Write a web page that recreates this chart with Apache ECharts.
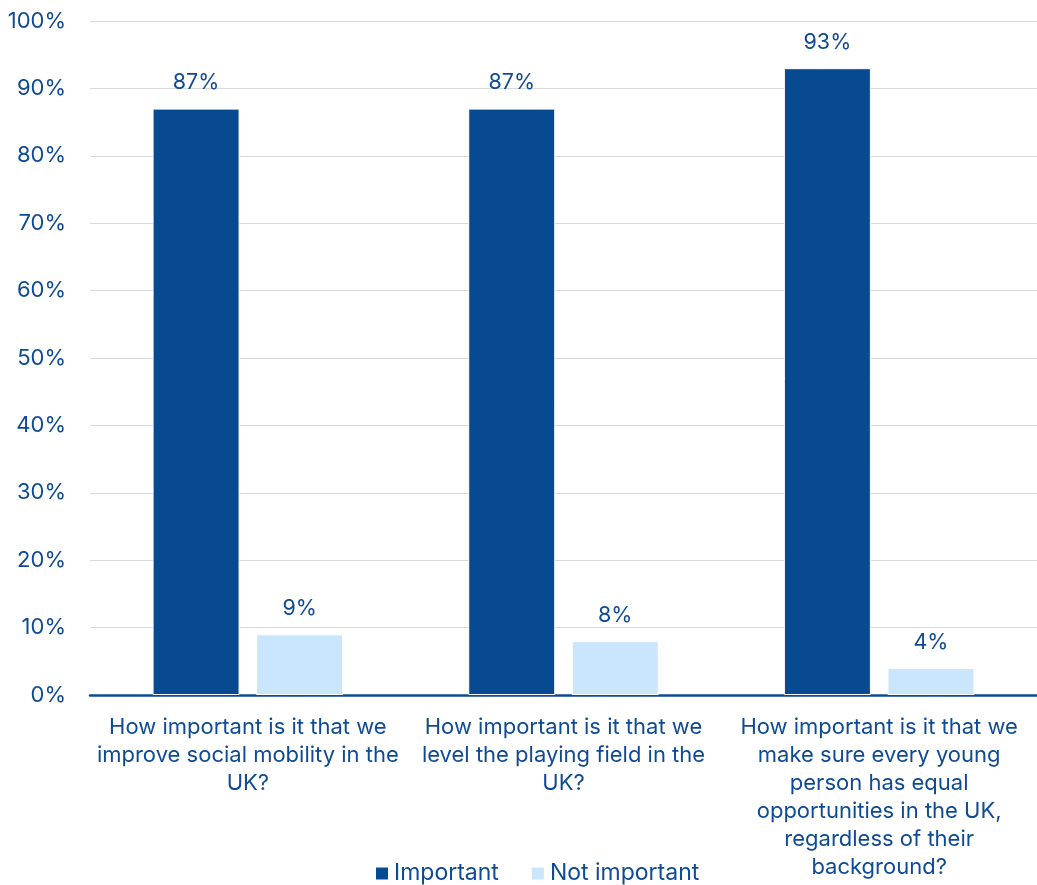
<!DOCTYPE html>
<html>
<head>
<meta charset="utf-8">
<script src="https://cdn.jsdelivr.net/npm/echarts@6/dist/echarts.min.js"></script>
<style>
  html, body { margin: 0; padding: 0; background: #fff; }
  #chart { width: 1037px; height: 885px; }
</style>
</head>
<body>
<div id="chart"></div>
<script>
// Survey questions (line breaks as shown under each group)
const categories = [
  'How important is it that we\nimprove social mobility in the\nUK?',
  'How important is it that we\nlevel the playing field in the\nUK?',
  'How important is it that we\nmake sure every young\nperson has equal\nopportunities in the UK,\nregardless of their\nbackground?'
];
const importantValues = [87, 87, 93];
const notImportantValues = [9, 8, 4];
const seriesNames = ['Important', 'Not important'];

const TEXT = '#0f4b94';
const FONT = 'Inter, "Noto Sans", sans-serif';

const chart = echarts.init(document.getElementById('chart'));

const labelStyle = {
  show: true,
  position: 'top',
  distance: 15,
  color: TEXT,
  fontSize: 21.5,
  fontFamily: FONT,
  formatter: p => p.value + '%'
};

chart.setOption({
  animation: false,
  textStyle: { fontFamily: FONT },
  grid: { left: 90, right: -3, top: 21, bottom: 190, containLabel: false },
  legend: {
    bottom: 0,
    left: 374,
    padding: 0,
    itemWidth: 14,
    itemHeight: 14,
    itemGap: 31,
    icon: 'rect',
    textStyle: { color: TEXT, fontSize: 23, fontFamily: FONT },
    data: seriesNames
  },
  xAxis: {
    type: 'category',
    data: categories,
    axisLine: { lineStyle: { color: '#0f4b94', width: 2.5 } },
    axisTick: { show: false },
    axisLabel: {
      color: TEXT,
      fontSize: 22,
      fontFamily: FONT,
      lineHeight: 28,
      margin: 18,
      interval: 0,
      align: 'center'
    }
  },
  yAxis: {
    type: 'value',
    min: 0,
    max: 100,
    interval: 10,
    axisLine: { show: false },
    axisTick: { show: false },
    splitLine: { lineStyle: { color: '#d9d9d9', width: 1 } },
    axisLabel: {
      color: TEXT,
      fontSize: 22,
      fontFamily: FONT,
      margin: 24,
      formatter: v => v + '%'
    }
  },
  series: [
    {
      name: seriesNames[0],
      type: 'bar',
      data: importantValues,
      barWidth: 87,
      barGap: '19%',
      itemStyle: { color: '#074a91', borderColor: '#ffffff', borderWidth: 1 },
      label: labelStyle
    },
    {
      name: seriesNames[1],
      type: 'bar',
      data: notImportantValues,
      barWidth: 87,
      itemStyle: { color: '#c9e6fc', borderColor: '#ffffff', borderWidth: 1 },
      label: labelStyle
    }
  ]
});
</script>
</body>
</html>
